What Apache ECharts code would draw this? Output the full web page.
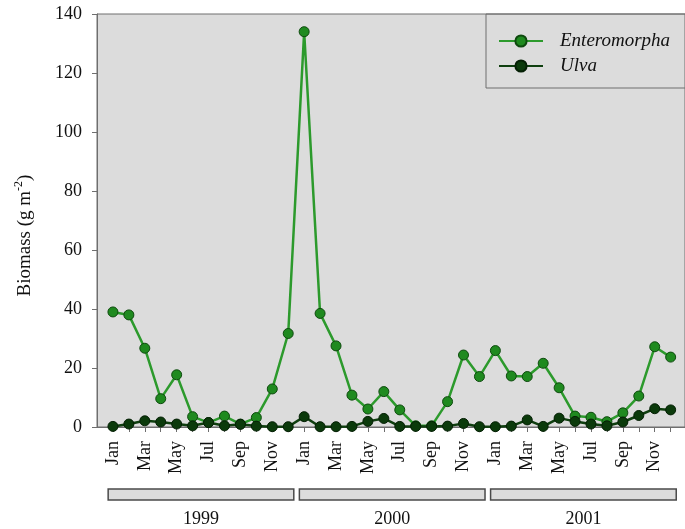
<!DOCTYPE html>
<html>
<head>
<meta charset="utf-8">
<script src="https://cdn.jsdelivr.net/npm/echarts@6/dist/echarts.min.js"></script>
<style>
  html, body { margin: 0; padding: 0; background: #ffffff; }
  #chart { width: 685px; height: 529px; }
</style>
</head>
<body>
<div id="chart"></div>
<script>
// Monthly biomass of green macroalgae, Jan 1999 – Dec 2001
const months = ['Jan', 'Feb', 'Mar', 'Apr', 'May', 'Jun', 'Jul', 'Aug', 'Sep', 'Oct', 'Nov', 'Dec'];
const years = ['1999', '2000', '2001'];

const enteromorpha = [
  39.0, 38.0, 26.7, 9.6, 17.7, 3.5, 1.5, 3.7, 1.0, 3.2, 12.9, 31.7,
  134.0, 38.5, 27.5, 10.8, 6.1, 12.0, 5.8, 0.4, 0.4, 8.6, 24.4, 17.1,
  25.9, 17.3, 17.1, 21.6, 13.3, 3.7, 3.3, 1.8, 4.8, 10.5, 27.2, 23.7
];
const ulva = [
  0.2, 1.0, 2.1, 1.7, 1.0, 0.4, 1.5, 0.4, 0.9, 0.3, 0.1, 0.1,
  3.5, 0.1, 0.1, 0.2, 1.9, 2.9, 0.2, 0.2, 0.2, 0.3, 1.2, 0.1,
  0.1, 0.3, 2.4, 0.2, 3.0, 1.9, 1.0, 0.4, 1.7, 3.9, 6.2, 5.8
];

const serif = '"Liberation Serif", "Times New Roman", serif';
const textColor = '#111';
const axisGray = '#6e6e6e';

const monthIdx = enteromorpha.map((_, i) => i);
const oddMonthIdx = monthIdx.filter(i => i % 2 === 0);

const chart = echarts.init(document.getElementById('chart'), null, { renderer: 'canvas' });

chart.setOption({
  animation: false,
  backgroundColor: '#ffffff',
  grid: {
    left: 97, top: 14, right: 0, bottom: 102,
    outerBoundsMode: 'none',
    containLabel: false,
    show: true,
    backgroundColor: '#dcdcdc',
    borderColor: axisGray,
    borderWidth: 1
  },
  legend: {
    data: ['Enteromorpha', 'Ulva'],
    orient: 'vertical',
    left: 486,
    top: 14,
    padding: [17, 40, 12, 12],
    itemWidth: 44,
    itemHeight: 14,
    itemGap: 5,
    borderColor: axisGray,
    borderWidth: 1,
    textStyle: {
      fontFamily: serif,
      fontStyle: 'italic',
      fontSize: 19,
      lineHeight: 20,
      color: textColor,
      padding: [0, 0, 0, 12]
    }
  },
  xAxis: {
    type: 'value',
    min: -1,
    max: 35.9,
    axisLine: { show: true, onZero: false, lineStyle: { color: axisGray, width: 1 } },
    axisTick: {
      show: true,
      length: 5,
      customValues: monthIdx,
      lineStyle: { color: axisGray }
    },
    splitLine: { show: false },
    axisLabel: {
      customValues: oddMonthIdx,
      rotate: 90,
      margin: 14,
      fontFamily: serif,
      fontSize: 18,
      color: textColor,
      formatter: v => months[Math.round(v) % 12]
    }
  },
  yAxis: {
    type: 'value',
    min: 0,
    max: 140,
    interval: 20,
    name: 'Biomass (g m{s|-2})',
    nameLocation: 'middle',
    nameGap: 60,
    nameTextStyle: {
      fontFamily: serif,
      fontSize: 19,
      color: textColor,
      padding: [0, 30, 0, 0],
      rich: {
        s: { fontFamily: serif, fontSize: 12, color: textColor, padding: [0, 0, 12, 0] }
      }
    },
    axisLine: { show: true, onZero: false, lineStyle: { color: axisGray, width: 1 } },
    axisTick: { show: true, length: 5, lineStyle: { color: axisGray } },
    splitLine: { show: false },
    axisLabel: {
      margin: 15,
      fontFamily: serif,
      fontSize: 18,
      color: textColor
    }
  },
  series: [
    {
      name: 'Enteromorpha',
      type: 'line',
      data: enteromorpha.map((v, i) => [i, v]),
      symbol: 'circle',
      symbolSize: 10,
      lineStyle: { color: '#2c9a2c', width: 2.5 },
      itemStyle: { color: '#1f8a1f', borderColor: '#0e4a0e', borderWidth: 1 },
      z: 3
    },
    {
      name: 'Ulva',
      type: 'line',
      data: ulva.map((v, i) => [i, v]),
      symbol: 'circle',
      symbolSize: 10,
      lineStyle: { color: '#0f3f0f', width: 2.5 },
      itemStyle: { color: '#0b3a0b', borderColor: '#041f04', borderWidth: 1 },
      z: 4
    },
    {
      // year brackets under the month labels
      name: 'years',
      type: 'custom',
      silent: true,
      clip: false,
      data: years.map((y, k) => [k * 12, k * 12 + 11, 0]),
      encode: { x: [0, 1], y: 2 },
      renderItem: function (params, api) {
        const start = api.coord([api.value(0) - 0.3, 0]);
        const end = api.coord([api.value(1) + 0.35, 0]);
        const base = start[1];
        return {
          type: 'group',
          children: [
            {
              type: 'rect',
              shape: { x: start[0], y: base + 62, width: end[0] - start[0], height: 11 },
              style: { fill: '#dcdcdc', stroke: '#4a4a4a', lineWidth: 1.5 }
            },
            {
              type: 'text',
              style: {
                text: years[params.dataIndex],
                x: (start[0] + end[0]) / 2,
                y: base + 92,
                align: 'center',
                verticalAlign: 'middle',
                font: '18px ' + serif,
                fill: textColor
              }
            }
          ]
        };
      }
    }
  ]
});
</script>
</body>
</html>
